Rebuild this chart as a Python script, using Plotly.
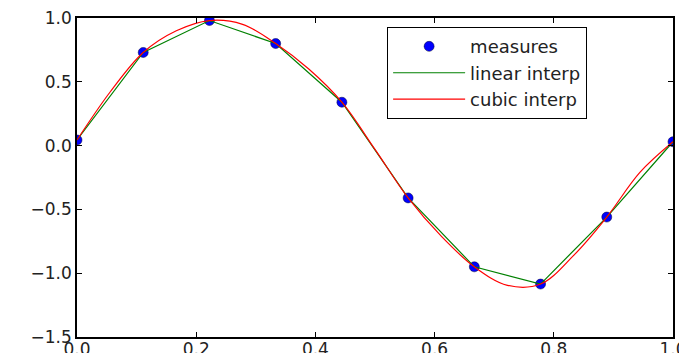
import plotly.graph_objects as go

# measured points
meas_x = [0.0, 1/9, 2/9, 3/9, 4/9, 5/9, 6/9, 7/9, 8/9, 1.0]
meas_y = [0.044, 0.73, 0.98, 0.80, 0.34, -0.41, -0.95, -1.085, -0.56, 0.03]

# cubic interpolation curve at the measures and halfway between them
cubic_x = [0.0, 1/18, 2/18, 3/18, 4/18, 5/18, 6/18, 7/18, 8/18, 9/18, 10/18,
           11/18, 12/18, 13/18, 14/18, 15/18, 16/18, 17/18, 1.0]
cubic_y = [0.044, 0.42, 0.73, 0.90, 0.98, 0.95, 0.80, 0.60, 0.34, -0.03, -0.41,
           -0.71, -0.95, -1.095, -1.085, -0.86, -0.56, -0.21, 0.03]

x_ticks = [0.0, 0.2, 0.4, 0.6, 0.8, 1.0]
y_ticks = [-1.5, -1.0, -0.5, 0.0, 0.5, 1.0]

fig = go.Figure()
fig.add_trace(go.Scatter(x=meas_x, y=meas_y, mode="markers", name="measures",
                         marker=dict(color="#0000ff", size=10,
                                     line=dict(color="#000033", width=0.5))))
fig.add_trace(go.Scatter(x=meas_x, y=meas_y, mode="lines", name="linear interp",
                         line=dict(color="#008000", width=1.2)))
fig.add_trace(go.Scatter(x=cubic_x, y=cubic_y, mode="lines", name="cubic interp",
                         line=dict(color="#ff0000", width=1.2, shape="spline", smoothing=1.0)))

axis_common = dict(showgrid=False, zeroline=False, showline=True, linecolor="black",
                   linewidth=1.5, mirror="ticks", ticks="inside", ticklen=5,
                   tickcolor="black", tickwidth=1, automargin=False,
                   ticklabeloverflow="allow")
fig.update_xaxes(range=[0, 1], tickvals=x_ticks, ticklabelstandoff=-4,
                 ticktext=[f"{v:.1f}" for v in x_ticks], **axis_common)
fig.update_yaxes(range=[-1.5, 1.0], tickvals=y_ticks,
                 ticktext=[f"{v:.1f}".replace("-", "\u2212") for v in y_ticks], **axis_common)

fig.update_layout(
    width=679, height=345,
    margin=dict(l=69, r=14, t=10, b=16),
    paper_bgcolor="white", plot_bgcolor="white",
    font=dict(family="DejaVu Sans", size=17, color="#222"),
    legend=dict(x=0.52, y=0.972, xanchor="left", yanchor="top",
                bordercolor="black", borderwidth=1.2, bgcolor="white",
                font=dict(size=18), itemwidth=72, tracegroupgap=0),
    showlegend=True,
)
fig.write_html("out.html")
